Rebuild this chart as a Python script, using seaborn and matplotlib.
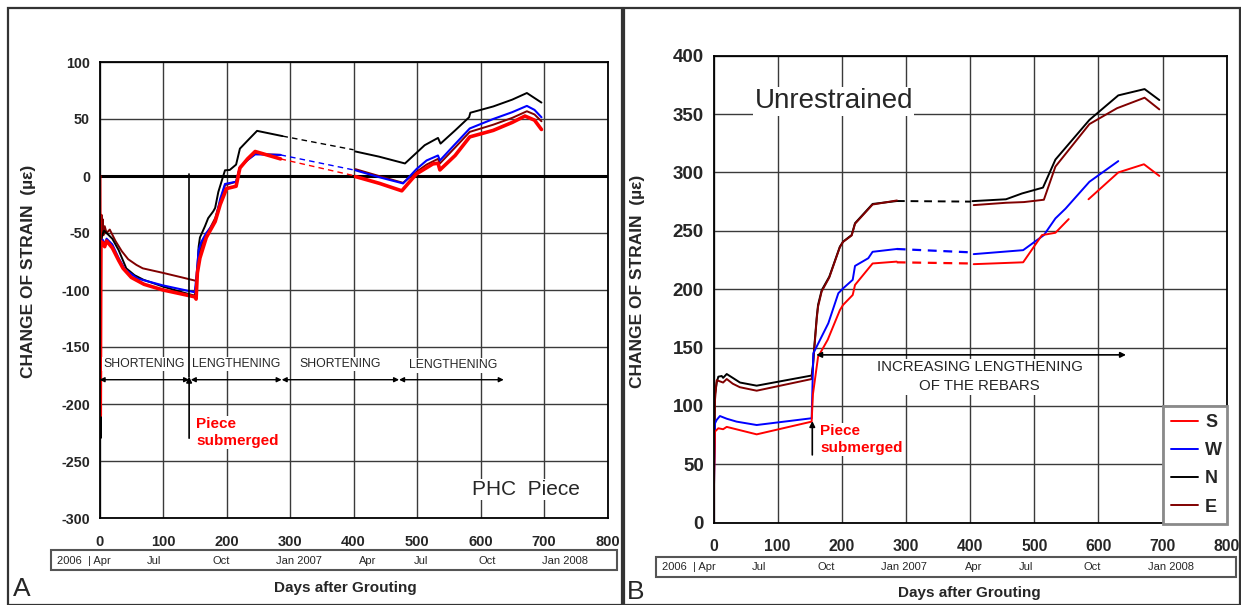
import matplotlib
matplotlib.use("Agg")
import matplotlib.pyplot as plt
import seaborn as sns
import pandas as pd
from matplotlib.patches import Rectangle

# ---------------- DATA ----------------
series_names = ["S", "W", "N", "E"]
series_colors = {"S": "#FF0000", "W": "#0000FF", "N": "#000000", "E": "#800000"}

# Panel A (PHC piece) - solid and dashed segments
A_N_days1 = [0, 1.5, 2.5, 4, 7, 11, 20, 30, 42, 55, 69, 100, 130, 150, 153, 156, 158, 166, 171, 179, 182, 187, 197.5, 205, 215, 221, 233, 248, 288]
A_N_str1 = [0, -230, -60, -52, -48, -50, -55, -65, -81, -87, -91, -97, -102, -105, -90, -62, -54, -44, -37, -31, -28, -14, 5, 5.3, 10, 24, 31, 39.6, 35]
A_N_days2 = [288, 400]
A_N_str2 = [35, 23]
A_N_days3 = [403, 440, 481, 512, 533, 537, 560, 582, 584, 620, 650, 673, 696]
A_N_str3 = [21.5, 17, 11, 27, 33.4, 28.4, 40, 51.5, 55.5, 61, 67, 72.8, 64.4]

A_W_days1 = [0, 1.2, 2.2, 5, 8, 11, 20, 30, 40, 60, 100, 150, 153, 156, 160, 168, 182, 190, 197.5, 215, 221, 233, 245, 285]
A_W_str1 = [0, -150, -62, -56, -60, -55, -60, -72, -82, -90, -96, -102, -85, -65, -58, -50, -40, -20, -7, -5, 8, 14, 19, 18.5]
A_W_days2 = [285, 403]
A_W_str2 = [18.5, 5]
A_W_days3 = [403, 440, 478, 499, 515, 533, 536, 560, 583, 620, 650, 673, 685, 696]
A_W_str3 = [5, -1, -6.5, 6, 13.6, 18, 13.6, 28, 41.7, 50, 56, 61.5, 58, 51.5]

A_S_days1 = [0, 1.0, 2.0, 4, 8, 11, 20, 30, 37, 50, 70, 100, 150, 152, 154, 158, 168, 182, 190, 200, 215, 221, 233, 245, 285]
A_S_str1 = [0, -210, -60, -58, -62, -57, -63, -74, -81, -89, -95, -100, -106, -108, -85, -72, -54, -40, -25, -11, -9, 7, 15, 21.5, 15]
A_S_days2 = [285, 403]
A_S_str2 = [15, 0]
A_S_days3 = [403, 441, 476, 499, 525, 533, 536, 560, 583, 620, 650, 670, 685, 696]
A_S_str3 = [-0.5, -6.5, -13, 1.8, 10.6, 11.2, 5.3, 18, 34.3, 40, 47, 52.6, 49, 40.8]

A_E_days1 = [0, 0.9, 1.4, 2, 3, 4, 5, 6, 8, 11, 16, 25, 35, 45, 58, 68, 100, 130, 152, 154, 157, 162, 170, 182, 190, 197.5, 215, 221, 233, 245, 285]
A_E_str1 = [0, -120, -40, -55, -34, -50, -38, -52, -44, -50, -47, -57, -66, -73, -78, -81, -85, -89, -92, -85, -69, -58, -50, -37, -22, -8, -5, 7.5, 14, 19.5, 18.5]
A_E_days3 = [403, 440, 478, 500, 515, 533, 536, 560, 583, 620, 650, 673, 685, 696]
A_E_str3 = [6, 0, -6, 4, 10, 15, 11, 25, 38.7, 45, 51, 56.8, 54, 48]

# Panel B (Unrestrained)
B_N_days1 = [0, 1, 2.3, 5, 7.5, 12.8, 15, 20.6, 30, 41.3, 67.3, 153, 155, 156.7, 161, 163, 168.6, 180.5, 197, 202, 215.4, 220.6, 248, 286]
B_N_str1 = [0, 60, 110, 120, 125, 125.6, 124, 127.3, 124, 120, 117.3, 126, 135, 148, 176.5, 186.6, 199, 210.7, 236.4, 240.7, 246.4, 256.5, 273, 275.5]
B_N_days2 = [286, 401]
B_N_str2 = [275.5, 275]
B_N_days3 = [403.7, 456, 481, 513.6, 533, 586, 631, 672, 695]
B_N_str3 = [275.4, 277, 282, 287, 311, 345, 366, 371.4, 362]

B_E_days1 = [0, 1, 2.3, 5, 10, 15, 20.6, 30, 41, 67.3, 153, 155, 156.7, 161, 163, 168.6, 180.5, 197, 202, 215.4, 220.6, 248, 286]
B_E_str1 = [0, 55, 105, 122, 121, 120, 123, 119, 116, 113, 123, 133, 146, 175, 185, 198, 210, 236, 240.5, 246, 256, 272.5, 276]
B_E_days3 = [405.6, 456, 484, 515, 533, 586, 629, 672, 695]
B_E_str3 = [272, 274, 274.6, 276.6, 305, 341.4, 355, 364, 354]

B_W_days1 = [0, 1, 2.3, 5, 10, 20.6, 36, 67.3, 153, 155.6, 166, 179, 194.6, 202.3, 217, 220.6, 241.3, 248, 285.6]
B_W_str1 = [0, 40, 85, 88, 91.3, 89, 86.5, 83.6, 89.4, 145, 156.5, 170.8, 196.5, 200.8, 208, 219.9, 226.5, 232, 234.4]
B_W_days2 = [285.6, 406]
B_W_str2 = [234.4, 231.4]
B_W_days3 = [405.6, 482.7, 515, 533, 548.8, 586, 631]
B_W_str3 = [230, 233.4, 246.3, 260.6, 269, 292, 309.7]

B_S_days1 = [0, 1, 2.3, 7.5, 15, 20.6, 67.3, 153, 155, 163, 178, 197, 202, 217, 220.6, 248, 285.6]
B_S_str1 = [0, 40, 78, 80.8, 80, 82, 75.6, 86.5, 110, 142, 156.6, 182, 186.5, 195, 203.6, 222, 223.6]
B_S_days2 = [285.6, 400.6]
B_S_str2 = [223, 222]
B_S_days3 = [405.6, 482.7, 512, 533, 553.7]
B_S_str3 = [221.4, 223, 246.3, 248.3, 260]
B_S_days4 = [584.6, 631, 671, 695]
B_S_str4 = [277, 300, 307, 297]

A_yticks = [-300, -250, -200, -150, -100, -50, 0, 50, 100]
B_yticks = [0, 50, 100, 150, 200, 250, 300, 350, 400]
x_ticks = [0, 100, 200, 300, 400, 500, 600, 700, 800]

A_phase_labels = ["SHORTENING", "LENGTHENING", "SHORTENING", "LENGTHENING"]
A_phase_bounds = [(0, 141), (143.6, 286.8), (286.8, 471.7), (471.7, 636.6)]

date_labels = ["2006  | Apr", "Jul", "Oct", "Jan 2007", "Apr", "Jul", "Oct", "Jan 2008"]
A_date_px = [56.7, 154, 221, 299, 368, 421, 487, 565]
B_date_px = [661.6, 759.4, 826, 904.4, 973.7, 1026, 1092.5, 1170.5]

# ---------------- FIGURE ----------------
sns.set_style("white")
plt.rcParams['font.family'] = ['Liberation Sans', 'DejaVu Sans']

W, H = 1241, 605
fig = plt.figure(figsize=(W / 100, H / 100), dpi=100)


def fx(px):
    return px / W


def fy(py):
    return 1 - py / H


axA = fig.add_axes([fx(99.6), fy(518), fx(607.5) - fx(99.6), fy(62) - fy(518)])
axB = fig.add_axes([fx(713.5), fy(522.6), fx(1226.7) - fx(713.5), fy(55.7) - fy(522.6)])


def seg(ax, days, strain, name, lw, dashed=False):
    df = pd.DataFrame({"day": days, "strain": strain})
    sns.lineplot(data=df, x="day", y="strain", ax=ax, color=series_colors[name],
                 linewidth=lw, linestyle=(0, (4, 3)) if dashed else "-",
                 estimator=None, sort=False, legend=False)
    return ax.lines[-1]


# Panel A lines
seg(axA, A_E_days1, A_E_str1, "E", 1.4)
seg(axA, A_E_days3, A_E_str3, "E", 1.4)
seg(axA, A_N_days1, A_N_str1, "N", 1.4)
seg(axA, A_N_days2, A_N_str2, "N", 1.0, dashed=True)
seg(axA, A_N_days3, A_N_str3, "N", 1.4)
seg(axA, A_W_days1, A_W_str1, "W", 1.5)
seg(axA, A_W_days2, A_W_str2, "W", 1.0, dashed=True)
seg(axA, A_W_days3, A_W_str3, "W", 1.5)
seg(axA, A_S_days1, A_S_str1, "S", 2.6)
seg(axA, A_S_days2, A_S_str2, "S", 1.0, dashed=True)
seg(axA, A_S_days3, A_S_str3, "S", 2.6)

# Panel B lines
hN = seg(axB, B_N_days1, B_N_str1, "N", 1.4)
seg(axB, B_N_days2, B_N_str2, "N", 1.4, dashed=True)
seg(axB, B_N_days3, B_N_str3, "N", 1.4)
hE = seg(axB, B_E_days1, B_E_str1, "E", 1.4)
seg(axB, B_E_days3, B_E_str3, "E", 1.4)
hW = seg(axB, B_W_days1, B_W_str1, "W", 1.4)
seg(axB, B_W_days2, B_W_str2, "W", 1.6, dashed=True)
seg(axB, B_W_days3, B_W_str3, "W", 1.4)
hS = seg(axB, B_S_days1, B_S_str1, "S", 1.4)
seg(axB, B_S_days2, B_S_str2, "S", 1.6, dashed=True)
seg(axB, B_S_days3, B_S_str3, "S", 1.4)
seg(axB, B_S_days4, B_S_str4, "S", 1.4)

# Axes styling
for ax, yt, tick_fs_y in [(axA, A_yticks, 10.3), (axB, B_yticks, 13.5)]:
    ax.set_xlim(0, 800)
    ax.set_ylim(yt[0], yt[-1])
    ax.set_xticks(x_ticks)
    ax.set_yticks(yt)
    ax.set_xticks(range(50, 800, 100), minor=True)
    ax.set_yticks(range(yt[0] + 25, yt[-1], 50), minor=True)
    ax.set_xticklabels([str(v) for v in x_ticks], fontweight="bold", fontsize=10.5 if ax is axA else 11.3)
    ax.set_yticklabels([str(v) for v in yt], fontweight="bold", fontsize=tick_fs_y)
    ax.grid(True, which="major", color="#3a3a3a", linewidth=1.0)
    ax.set_axisbelow(True)
    ax.tick_params(axis="x", which="major", direction="out", length=4, width=1, pad=8, color="black")
    ax.tick_params(axis="x", which="minor", direction="in", length=4, width=1, color="black")
    ax.tick_params(axis="y", which="both", direction="out", length=5, width=1, pad=2, color="black")
    for sp in ax.spines.values():
        sp.set_visible(True)
        sp.set_color("black")
        sp.set_linewidth(1.3)
    ax.set_xlabel("")
    ax.set_ylabel("CHANGE OF STRAIN  (\u00b5\u03b5)", fontweight="bold", fontsize=12.5)

axA.yaxis.set_label_coords(-0.125, 0.54)
axB.yaxis.set_label_coords(-0.133, 0.517)

axA.axhline(0, color="black", linewidth=2.2, zorder=1.5)

white_box = dict(facecolor="white", edgecolor="none", pad=1.0)

# Panel A annotations
for lab, (a, b) in zip(A_phase_labels, A_phase_bounds):
    axA.annotate("", xy=(b, -178.7), xytext=(a, -178.7),
                 arrowprops=dict(arrowstyle="<|-|>", color="black", lw=1.0,
                                 mutation_scale=7, shrinkA=0, shrinkB=0))
    yoff = -166 if lab == "LENGTHENING" and a > 400 else -165
    axA.text((a + b) / 2 + (2 if a > 400 else 0), yoff, lab, ha="center", va="center",
             fontsize=8.8, bbox=white_box, zorder=3)

axA.plot([141, 141], [2, -176], color="black", lw=1.2)
axA.annotate("", xy=(141, -176), xytext=(141, -230),
             arrowprops=dict(arrowstyle="-|>", color="black", lw=1.2,
                             mutation_scale=8, shrinkA=0, shrinkB=0))
axA.text(152, -225, "Piece\nsubmerged", color="#FF0000", fontweight="bold",
         fontsize=11, ha="left", va="center", linespacing=1.25, bbox=white_box, zorder=3)
axA.text(587, -275, "PHC  Piece", fontsize=15, ha="left", va="center",
         bbox=white_box, zorder=3)

# Panel B annotations
axB.annotate("", xy=(154, 87), xytext=(154, 58),
             arrowprops=dict(arrowstyle="-|>", color="black", lw=1.2,
                             mutation_scale=8, shrinkA=0, shrinkB=0))
axB.annotate("", xy=(643, 143.7), xytext=(160, 143.7),
             arrowprops=dict(arrowstyle="<|-|>", color="black", lw=1.2,
                             mutation_scale=8, shrinkA=0, shrinkB=0))
axB.text(166, 71, "Piece\nsubmerged", color="#FF0000", fontweight="bold",
         fontsize=11, ha="left", va="center", linespacing=1.25, bbox=white_box, zorder=3)
axB.text(415, 125, "INCREASING LENGTHENING\nOF THE REBARS", fontsize=10.8,
         ha="center", va="center", linespacing=1.45, bbox=white_box, zorder=3)
axB.text(64, 361, "Unrestrained", fontsize=20, ha="left", va="center",
         bbox=white_box, zorder=3)

leg = axB.legend(handles=[hS, hW, hN, hE], labels=series_names,
                 loc="upper left", bbox_to_anchor=(700, 0, 100, 100),
                 bbox_transform=axB.transData, mode="expand", borderaxespad=0,
                 prop={"weight": "bold", "size": 13}, handlelength=1.5,
                 handletextpad=0.4, labelspacing=0.62, borderpad=0.45,
                 frameon=True, fancybox=False, edgecolor="#8a8a8a", framealpha=1)
leg.get_frame().set_linewidth(2)

# Date bars
fig.add_artist(Rectangle((fx(50.6), fy(570)), fx(616.6) - fx(50.6), fy(550) - fy(570),
                         transform=fig.transFigure, fill=False, edgecolor="#555555", lw=1.5))
fig.add_artist(Rectangle((fx(655.6), fy(576.5)), fx(1235.8) - fx(655.6), fy(557) - fy(576.5),
                         transform=fig.transFigure, fill=False, edgecolor="#555555", lw=1.5))
for i, (lab, px) in enumerate(zip(date_labels, A_date_px)):
    fig.text(fx(px), fy(560.5), lab, ha="left" if i == 0 else "center", va="center", fontsize=8)
for i, (lab, px) in enumerate(zip(date_labels, B_date_px)):
    fig.text(fx(px), fy(567), lab, ha="left" if i == 0 else "center", va="center", fontsize=8)

fig.text(fx(345), fy(588), "Days after Grouting", ha="center", va="center",
         fontweight="bold", fontsize=11)
fig.text(fx(969.5), fy(593), "Days after Grouting", ha="center", va="center",
         fontweight="bold", fontsize=11)
fig.text(fx(13), fy(589), "A", ha="left", va="center", fontsize=19)
fig.text(fx(627), fy(592), "B", ha="left", va="center", fontsize=19)

# Panel frames
fig.add_artist(Rectangle((fx(7.5), fy(605)), fx(622) - fx(7.5), fy(7.5) - fy(605),
                         transform=fig.transFigure, fill=False, edgecolor="#333333", lw=1.6))
fig.add_artist(Rectangle((fx(623.5), fy(605)), fx(1240) - fx(623.5), fy(7.5) - fy(605),
                         transform=fig.transFigure, fill=False, edgecolor="#333333", lw=1.6))

fig.savefig("out.png", dpi=100)
